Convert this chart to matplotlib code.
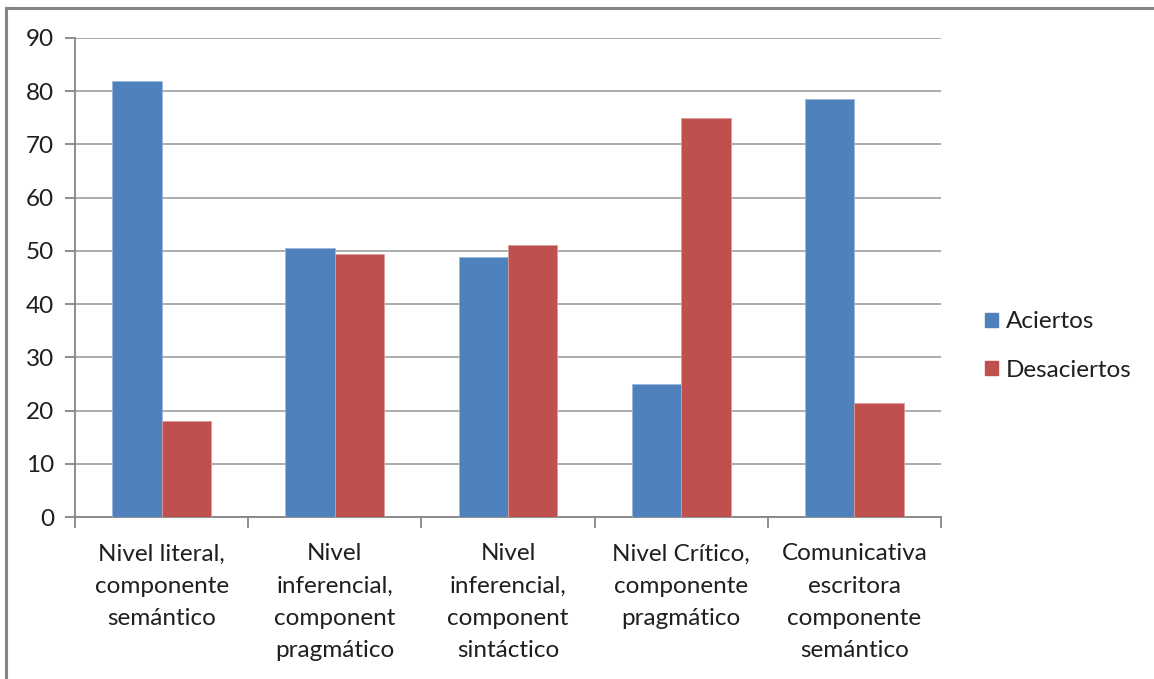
import matplotlib
matplotlib.use("Agg")
import matplotlib.pyplot as plt
import numpy as np
from matplotlib.lines import Line2D
from matplotlib.patches import Patch

categories = [
    "Nivel literal,\ncomponente\nsemántico",
    "Nivel\ninferencial,\ncomponent\npragmático",
    "Nivel\ninferencial,\ncomponent\nsintáctico",
    "Nivel Crítico,\ncomponente\npragmático",
    "Comunicativa\nescritora\ncomponente\nsemántico",
]
aciertos = [82, 50.5, 48.8, 25, 78.5]
desaciertos = [18, 49.5, 51.2, 75, 21.5]
y_ticks = [0, 10, 20, 30, 40, 50, 60, 70, 80, 90]

BLUE = "#4F81BD"
RED = "#C0504D"
AXIS = "#868686"
GRID = "#A6A6A6"
TEXT = "#1F1F1F"
FS = 17.5

plt.rcParams["font.family"] = ["Lato", "DejaVu Sans"]

W, H = 1154, 679
fig = plt.figure(figsize=(W / 100, H / 100), dpi=100)
ax = fig.add_axes([75 / W, 1 - 517 / H, 866 / W, 479 / H])

n = len(categories)
x = np.arange(n)
bw = 1 / 3.5
ax.bar(x - bw / 2, aciertos, width=bw, color=BLUE, edgecolor="#9DB7DC",
       linewidth=0.6, zorder=3, label="Aciertos")
ax.bar(x + bw / 2, desaciertos, width=bw, color=RED, edgecolor="#DB9C9A",
       linewidth=0.6, zorder=3, label="Desaciertos")

ax.set_xlim(-0.5, n - 0.5)
ax.set_ylim(0, 90)
ax.set_yticks(y_ticks)
ax.set_yticklabels([str(v) for v in y_ticks], fontsize=FS, color=TEXT)
ax.yaxis.grid(True, color=GRID, linewidth=1.3, zorder=0)
ax.set_axisbelow(True)

# category separators as minor ticks, labels centred on major positions
ax.set_xticks(x)
ax.set_xticklabels(categories, fontsize=FS, color=TEXT, linespacing=1.66,
                   va="top")
ax.tick_params(axis="x", which="major", length=0, pad=19)
ax.set_xticks(np.arange(n + 1) - 0.5, minor=True)
ax.tick_params(axis="x", which="minor", length=8, width=1.3, color=AXIS,
               direction="out")
ax.tick_params(axis="y", length=7, width=1.3, color=AXIS, pad=8,
               direction="out")

for side in ("top", "right"):
    ax.spines[side].set_visible(False)
for side in ("left", "bottom"):
    ax.spines[side].set_color(AXIS)
    ax.spines[side].set_linewidth(1.3)

handles = [Patch(facecolor=BLUE, edgecolor=BLUE), Patch(facecolor=RED, edgecolor=RED)]
ax.legend(handles, ["Aciertos", "Desaciertos"], loc="center left",
          bbox_to_anchor=(963 / W, 1 - 346 / H), bbox_transform=fig.transFigure,
          frameon=False, fontsize=FS, handlelength=0.52, handleheight=0.52,
          handletextpad=0.35, labelspacing=1.13, labelcolor=TEXT)

# outer chart frame (top and left edges)
fig.add_artist(Line2D([6 / W, 1.0], [1 - 8 / H, 1 - 8 / H], color="#858585",
                      linewidth=2.2, transform=fig.transFigure))
fig.add_artist(Line2D([6 / W, 6 / W], [0.0, 1 - 8 / H], color="#858585",
                      linewidth=2.2, transform=fig.transFigure))

fig.savefig("out.png", dpi=100, facecolor="white")
